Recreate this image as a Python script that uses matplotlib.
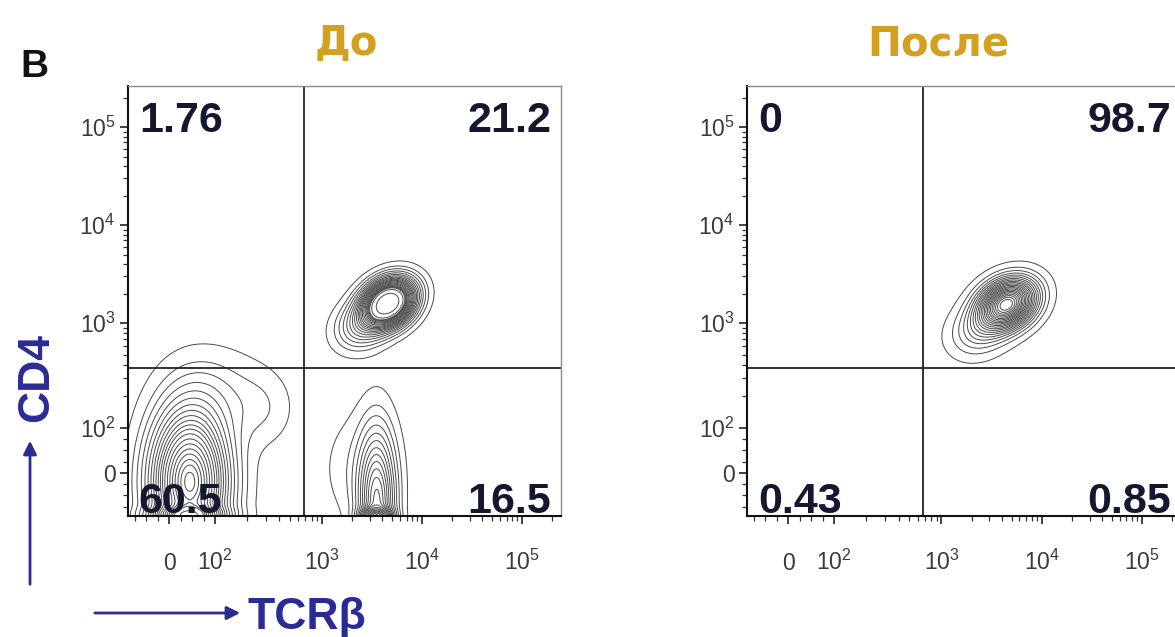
import numpy as np
import matplotlib
matplotlib.use('Agg')
import matplotlib.pyplot as plt
from matplotlib.patches import FancyArrowPatch

plt.rcParams['font.family'] = ['Liberation Sans', 'DejaVu Sans']
plt.rcParams['mathtext.fontset'] = 'custom'
plt.rcParams['mathtext.rm'] = 'Liberation Sans'

W, H = 1175, 637

# --- data ---
panel_titles = ['До', 'После']
quad_before = ['1.76', '21.2', '60.5', '16.5']   # UL, UR, LL, LR
quad_after = ['0', '98.7', '0.43', '0.85']
tick_vals = [0, 1e2, 1e3, 1e4, 1e5]
tick_labels = ['0', r'$\mathregular{10^2}$', r'$\mathregular{10^3}$',
               r'$\mathregular{10^4}$', r'$\mathregular{10^5}$']
gate_tcrb = 680     # vertical gate
gate_cd4 = 370      # horizontal gate

# populations: TCRb centre, CD4 centre, spread x / y (decades), corr, weight
pops_before = [
    (45, -20, 0.25, 0.48, 0.0, 0.54),     # DN
    (280, 150, 0.20, 0.25, 0.0, 0.012),   # DN shoulder
    (110, 220, 0.32, 0.30, 0.0, 0.03),
    (40, -95, 0.24, 0.06, 0.0, 0.025),    # pile-up at axis
    (3550, -70, 0.12, 0.48, 0.0, 0.14),   # CD8 SP
    (2400, 10, 0.24, 0.38, 0.0, 0.025),
    (3500, -95, 0.10, 0.05, 0.0, 0.01),
    (4600, 1600, 0.16, 0.15, 0.25, 0.18), # DP
    (2500, 950, 0.17, 0.16, 0.2, 0.03),
]
pops_after = [
    (4500, 1560, 0.18, 0.16, 0.25, 0.85),
    (2400, 850, 0.19, 0.17, 0.2, 0.15),
]
contour_probs = np.linspace(0.05, 0.975, 22)

# --- biexponential-like display scale ---
P0, P2 = 1.47, 1.93


def fwd(v):
    v = np.asarray(v, float)
    lg = np.log10(np.clip(v, 100, None))
    lin = P0 + v / 100.0 * (P2 - P0)
    mid = P2 + (lg - 2) * (3 - P2)
    return np.where(v < 100, lin, np.where(v < 1000, mid, lg))


def inv(p):
    p = np.asarray(p, float)
    lin = (p - P0) / (P2 - P0) * 100
    mid = 10 ** (2 + (np.clip(p, P2, 3) - P2) / (3 - P2))
    hi = 10 ** np.clip(p, 3, 7)
    return np.where(p < P2, lin, np.where(p < 3, mid, hi))


def density(pops, GX, GY):
    Z = np.zeros_like(GX)
    for cx, cy, sx, sy, rho, w in pops:
        dx = (GX - fwd(cx)) / sx
        dy = (GY - fwd(cy)) / sy
        q = (dx**2 - 2 * rho * dx * dy + dy**2) / (1 - rho**2)
        Z += w / (2 * np.pi * sx * sy) * np.exp(-q / 2)
    return Z


def prob_levels(Z, mask, probs):
    # equal-probability contour levels
    zs = np.sort(Z[mask])[::-1]
    cum = np.cumsum(zs)
    cum /= cum[-1]
    lv = [zs[min(np.searchsorted(cum, p), len(zs) - 1)] for p in probs]
    return np.unique(np.sort(lv))


fig = plt.figure(figsize=(W / 100, H / 100), dpi=100)


def px_box(l, t, r, b):
    return [l / W, 1 - b / H, (r - l) / W, (b - t) / H]


gx = np.linspace(0.9, 5.6, 450)
gy = np.linspace(0.9, 5.6, 450)
GX, GY = np.meshgrid(gx, gy)

boxes = [px_box(128, 86, 561, 516), px_box(747, 86, 1181, 516)]
title_x = [346, 938]
for i, (pops, quads) in enumerate([(pops_before, quad_before), (pops_after, quad_after)]):
    ax = fig.add_axes(boxes[i])
    ax.set_xscale('function', functions=(fwd, inv))
    ax.set_yscale('function', functions=(fwd, inv))
    ax.set_xlim(float(inv(1.06)), float(inv(5.39)))
    ax.set_ylim(float(inv(1.03)), float(inv(5.42)))

    Z = density(pops, GX, GY)
    vis = (GX > 1.06) & (GY > 1.03)
    levels = prob_levels(Z, vis, contour_probs)
    ax.contour(inv(GX), inv(GY), Z, levels=levels, colors='#4a4a4a', linewidths=0.7)

    ax.axvline(gate_tcrb, color='#222222', lw=1.3)
    ax.axhline(gate_cd4, color='#222222', lw=1.3)

    ax.set_xticks(tick_vals)
    ax.set_xticklabels(tick_labels)
    ax.set_yticks(tick_vals)
    ax.set_yticklabels(tick_labels)
    minors = [-75, -50, -25, 25, 50, 75] + [m * 10**k for k in (2, 3, 4) for m in range(2, 10)] + [2e5]
    ax.set_xticks(minors, minor=True)
    ax.set_yticks(minors, minor=True)
    ax.tick_params(which='major', direction='out', length=6, width=1.2, labelsize=16.5,
                   labelcolor='#3a3a3a', color='#222222')
    ax.tick_params(which='minor', direction='out', length=3.5, width=0.9, color='#333333')
    ax.tick_params(axis='x', which='major', pad=33)
    ax.tick_params(axis='y', which='major', pad=3)
    for t in ax.get_xticklabels():
        t.set_va('baseline')

    for side in ('left', 'bottom'):
        ax.spines[side].set_linewidth(1.5)
        ax.spines[side].set_color('#111111')
    for side in ('top', 'right'):
        ax.spines[side].set_linewidth(1.0)
        ax.spines[side].set_color('#8a8a8a')

    qkw = dict(transform=ax.transAxes, fontsize=31, fontweight='bold', color='#16162e', va='baseline')
    ax.text(0.025, 0.893, quads[0], ha='left', **qkw)
    ax.text(0.978, 0.893, quads[1], ha='right', **qkw)
    ax.text(0.025, 0.008, quads[2], ha='left', **qkw)
    ax.text(0.978, 0.008, quads[3], ha='right', **qkw)

    fig.text(title_x[i] / W, 1 - 55 / H, panel_titles[i], fontsize=29, fontweight='bold',
             family='DejaVu Sans', color='#d4a020', ha='center', va='baseline')

fig.text(34 / W, 1 - 77 / H, 'B', fontsize=28, fontweight='bold', color='#111111',
         ha='center', va='baseline')

blue = '#2b2b96'
fig.text(37 / W, 1 - 377 / H, 'CD4', fontsize=32, fontweight='bold', color=blue,
         rotation=90, ha='center', va='center')
fig.text(248 / W, 1 - 613 / H, 'TCRβ', fontsize=32, fontweight='bold', color=blue,
         ha='left', va='center_baseline')
fig.add_artist(FancyArrowPatch((30 / W, 1 - 587 / H), (30 / W, 1 - 438 / H),
                               transform=fig.transFigure, arrowstyle='-|>',
                               mutation_scale=20, lw=2, color=blue))
fig.add_artist(FancyArrowPatch((92 / W, 1 - 613 / H), (243 / W, 1 - 613 / H),
                               transform=fig.transFigure, arrowstyle='-|>',
                               mutation_scale=20, lw=2, color=blue))

fig.savefig('out.png', dpi=100)
